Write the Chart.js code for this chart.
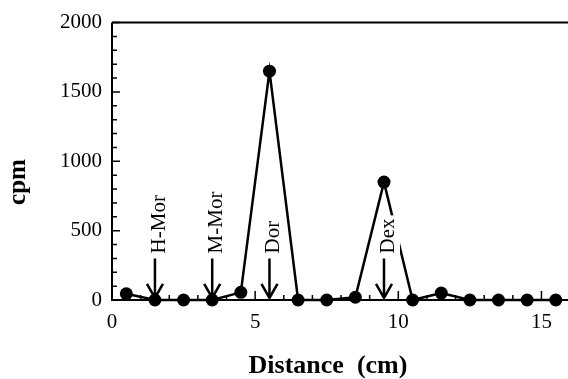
<!DOCTYPE html>
<html>
<head>
<meta charset="utf-8">
<script src="https://cdn.jsdelivr.net/npm/chart.js@4"></script>
<style>
  html, body { margin: 0; padding: 0; background: #fff; }
  #wrap { width: 568px; height: 379px; position: relative; }
</style>
</head>
<body>
<div id="wrap"><canvas id="chart"></canvas></div>
<script>
// fraction distance along the gel (cm) and counts
const distance = [0.5, 1.5, 2.5, 3.5, 4.5, 5.5, 6.5, 7.5, 8.5, 9.5, 10.5, 11.5, 12.5, 13.5, 14.5, 15.5];
const cpm = [45, 0, 0, 0, 55, 1650, 0, 0, 20, 850, 0, 50, 0, 0, 0, 0];

// standards marked with arrows
const markerNames = ['H-Mor', 'M-Mor', 'Dor', 'Dex'];
const markerPos = [1.5, 3.5, 5.5, 9.5];
const arrowTop = 300;   // cpm value where the arrow shaft starts
const arrowTip = 15;

const xTicks = [0, 5, 10, 15];
const yTicks = [0, 500, 1000, 1500, 2000];

const serif = "'Liberation Serif', 'Times New Roman', serif";

const framePlugin = {
  id: 'frame',
  afterDatasetsDraw(chart) {
    const { ctx, chartArea: a, scales: { x, y } } = chart;
    ctx.save();
    ctx.strokeStyle = '#000';
    ctx.fillStyle = '#000';

    // axes: left, bottom, top
    ctx.lineWidth = 2;
    ctx.beginPath();
    ctx.moveTo(a.left, a.top);
    ctx.lineTo(chart.width, a.top);
    ctx.moveTo(a.left, a.top);
    ctx.lineTo(a.left, a.bottom);
    ctx.lineTo(chart.width, a.bottom);
    ctx.stroke();

    // inward ticks
    ctx.lineWidth = 1.5;
    ctx.beginPath();
    for (let v = 0; v <= 2000; v += 100) {
      const py = y.getPixelForValue(v);
      const len = v % 500 === 0 ? 8 : 5;
      ctx.moveTo(a.left, py);
      ctx.lineTo(a.left + len, py);
    }
    for (let v = 1; v <= x.max; v += 1) {
      const px = x.getPixelForValue(v);
      const len = v % 5 === 0 ? 9 : 5;
      ctx.moveTo(px, a.bottom);
      ctx.lineTo(px, a.bottom - len);
    }
    ctx.stroke();

    // arrows + labels
    ctx.font = '21px ' + serif;
    markerPos.forEach((pos, i) => {
      const px = x.getPixelForValue(pos);
      const top = y.getPixelForValue(arrowTop);
      const tip = y.getPixelForValue(arrowTip);
      ctx.lineWidth = 2.5;
      ctx.beginPath();
      ctx.moveTo(px, top);
      ctx.lineTo(px, tip);
      ctx.moveTo(px - 8, tip - 14);
      ctx.lineTo(px, tip);
      ctx.lineTo(px + 8, tip - 14);
      ctx.stroke();

      ctx.save();
      ctx.translate(px + 10, top - 5);
      ctx.rotate(-Math.PI / 2);
      const w = ctx.measureText(markerNames[i]).width;
      ctx.fillStyle = '#fff';
      ctx.fillRect(-1, -16, w + 4, 22);
      ctx.fillStyle = '#000';
      ctx.textAlign = 'left';
      ctx.textBaseline = 'alphabetic';
      ctx.fillText(markerNames[i], 0, 0);
      ctx.restore();
    });

    // axis titles
    ctx.font = 'bold 25px ' + serif;
    ctx.textAlign = 'center';
    ctx.textBaseline = 'middle';
    ctx.save();
    ctx.translate(19, 182);
    ctx.rotate(-Math.PI / 2);
    ctx.fillText('cpm', 0, 0);
    ctx.restore();
    ctx.font = 'bold 26px ' + serif;
    ctx.textBaseline = 'alphabetic';
    ctx.fillText('Distance  (cm)', 328, 373);
    ctx.restore();
  }
};

new Chart(document.getElementById('chart'), {
  type: 'scatter',
  data: {
    datasets: [{
      data: distance.map((d, i) => ({ x: d, y: cpm[i] })),
      showLine: true,
      borderColor: '#000',
      borderWidth: 2.5,
      backgroundColor: '#000',
      pointRadius: 6.5,
      pointBorderWidth: 0,
      pointBackgroundColor: '#000',
      clip: false
    }]
  },
  options: {
    responsive: true,
    maintainAspectRatio: false,
    animation: false,
    layout: { padding: { top: 19, right: 0, left: 0, bottom: 0 } },
    plugins: { legend: { display: false }, tooltip: { enabled: false } },
    scales: {
      x: {
        type: 'linear',
        min: 0,
        max: 15.7,
        afterBuildTicks: s => { s.ticks = xTicks.map(v => ({ value: v })); },
        afterFit: s => { s.height = 79; },
        grid: { display: false, drawTicks: false },
        border: { display: false },
        ticks: { color: '#000', padding: 10, maxRotation: 0, callback: v => String(v), font: { family: serif, size: 21 } }
      },
      y: {
        min: 0,
        max: 2000,
        afterBuildTicks: s => { s.ticks = yTicks.map(v => ({ value: v })); },
        afterFit: s => { s.width = 112; },
        grid: { display: false, drawTicks: false },
        border: { display: false },
        ticks: { color: '#000', padding: 10, callback: v => String(v), font: { family: serif, size: 21 } }
      }
    }
  },
  plugins: [framePlugin]
});
</script>
</body>
</html>
